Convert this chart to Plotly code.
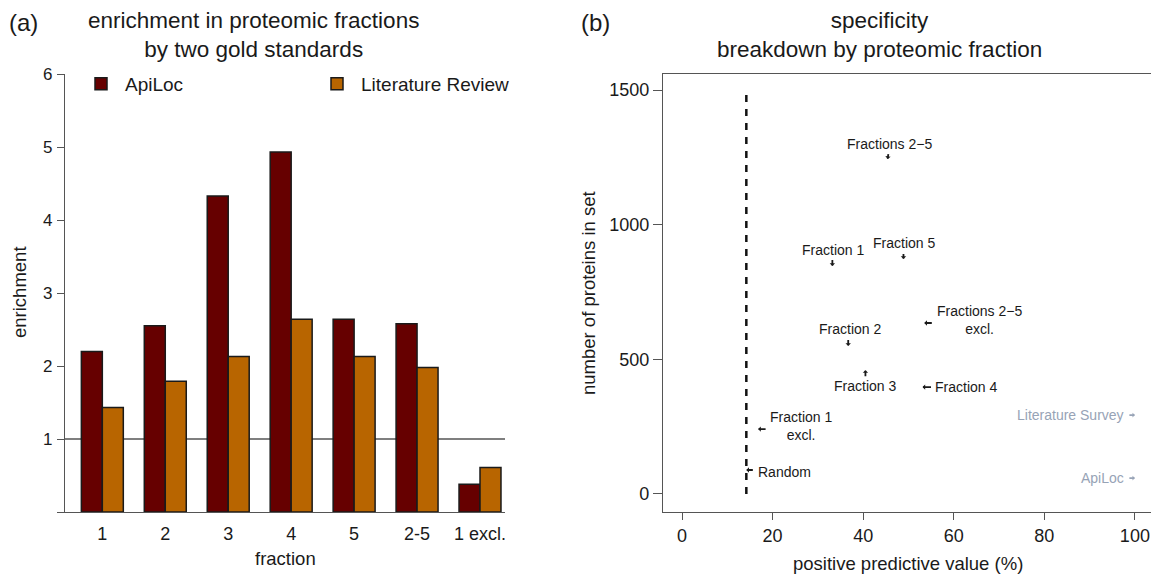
import plotly.graph_objects as go

# ---------------- data ----------------
fractions = ["1", "2", "3", "4", "5", "2-5", "1 excl."]
apiloc_enrichment = [2.20, 2.55, 4.33, 4.93, 2.64, 2.58, 0.38]
literature_enrichment = [1.43, 1.79, 2.13, 2.64, 2.13, 1.98, 0.61]
enrichment_ticks = [1, 2, 3, 4, 5, 6]
baseline_enrichment = 1

set_labels = ["Fractions 2\u22125", "Fraction 1", "Fraction 5", "Fraction 2",
              "Fractions 2\u22125<br>excl.", "Fraction 3", "Fraction 4",
              "Fraction 1<br>excl.", "Random"]
set_ppv = [45.4, 33.2, 48.9, 36.7, 53.5, 40.5, 53.1, 16.8, 14.2]
set_size = [1244, 847, 873, 550, 635, 460, 397, 241, 89]

gold_labels = ["Literature Survey", "ApiLoc"]
gold_ppv = [100, 100]
gold_size = [293, 59]

random_ppv = 14.2
random_line_size = [0, 1485]

ppv_ticks = [0, 20, 40, 60, 80, 100]
size_ticks = [0, 500, 1000, 1500]

# ---------------- styles ----------------
# the page body has an 8px margin, so the figure is sized to fit the window
OFF = 8
W, H = 1159 - OFF, 578 - OFF
FONT = "Liberation Sans, Arial, sans-serif"
TXT = "#1a1a1a"
AX = "#555555"
DARK = "#660000"
ORANGE = "#B86500"
GOLD_COL = "#97A3B6"

def px(xp):
    return (xp - OFF) / W

def py(yp):
    return 1 - (yp - OFF) / H

# arrow (tail offset) and label offsets for each set, in pixels
arrow_off = [(1, -7), (0, -8), (0, -7), (0, -8), (9, 0), (0, 8), (10, 0), (9, 0), (8, 0)]
label_off = [(2, 15, "center"), (1, 16, "center"), (1, 16, "center"), (2, 17, "center"),
             (55, 3, "center"), (0, -16, "center"), (11, 0, "left"), (43, 3, "center"),
             (10, -2, "left")]

fig = go.Figure()

# ---- panel (a) ----
fig.add_trace(go.Bar(x=fractions, y=apiloc_enrichment, name="ApiLoc",
                     marker=dict(color=DARK, line=dict(color="#1a1a1a", width=1.5)),
                     xaxis="x", yaxis="y"))
fig.add_trace(go.Bar(x=fractions, y=literature_enrichment, name="Literature Review",
                     marker=dict(color=ORANGE, line=dict(color="#1a1a1a", width=1.5)),
                     xaxis="x", yaxis="y"))

# ---- panel (b) ----
fig.add_trace(go.Scatter(x=[random_ppv, random_ppv], y=random_line_size, mode="lines",
                         line=dict(color="#111111", width=2.5, dash="7px,7px"),
                         showlegend=False, xaxis="x2", yaxis="y2", hoverinfo="skip"))
fig.add_trace(go.Scatter(x=set_ppv, y=set_size, mode="markers",
                         marker=dict(size=1, color="rgba(0,0,0,0)"),
                         showlegend=False, xaxis="x2", yaxis="y2", text=set_labels))

annotations = []
for i, (lab, xv, yv) in enumerate(zip(set_labels, set_ppv, set_size)):
    ax_, ay_ = arrow_off[i]
    annotations.append(dict(x=xv, y=yv, xref="x2", yref="y2", text=" ", showarrow=True,
                            ax=ax_, ay=ay_, arrowhead=1, arrowsize=0.5, arrowwidth=1.8,
                            arrowcolor="#1a1a1a", font=dict(size=1)))
    dx, dy, anc = label_off[i]
    annotations.append(dict(x=xv, y=yv, xref="x2", yref="y2", text=lab, showarrow=False,
                            xshift=dx, yshift=dy, xanchor=anc, yanchor="middle",
                            font=dict(size=14, color=TXT, family=FONT)))

for lab, xv, yv in zip(gold_labels, gold_ppv, gold_size):
    annotations.append(dict(x=xv, y=yv, xref="x2", yref="y2", text=" ", showarrow=True,
                            ax=-7, ay=0, arrowhead=1, arrowsize=0.5, arrowwidth=1.6,
                            arrowcolor=GOLD_COL, font=dict(size=1)))
    annotations.append(dict(x=xv, y=yv, xref="x2", yref="y2", text=lab, showarrow=False,
                            xshift=-9, yshift=0, xanchor="right", yanchor="middle",
                            font=dict(size=14, color=GOLD_COL, family=FONT)))

# titles and panel letters
annotations += [
    dict(x=px(24), y=py(23), xref="paper", yref="paper", text="(a)", showarrow=False,
         font=dict(size=24, color=TXT, family=FONT), xanchor="center", yanchor="middle"),
    dict(x=px(595), y=py(23), xref="paper", yref="paper", text="(b)", showarrow=False,
         font=dict(size=24, color=TXT, family=FONT), xanchor="center", yanchor="middle"),
    dict(x=px(253), y=py(35), xref="paper", yref="paper",
         text="enrichment in proteomic fractions<br>by two gold standards", showarrow=False,
         font=dict(size=22.5, color=TXT, family=FONT), xanchor="center", yanchor="middle"),
    dict(x=px(879), y=py(35), xref="paper", yref="paper",
         text="specificity<br>breakdown by proteomic fraction", showarrow=False,
         font=dict(size=22.5, color=TXT, family=FONT), xanchor="center", yanchor="middle"),
    dict(x=px(285), y=py(558), xref="paper", yref="paper", text="fraction", showarrow=False,
         font=dict(size=18.5, color=TXT, family=FONT), xanchor="center", yanchor="middle"),
    dict(x=px(19), y=py(292), xref="paper", yref="paper", text="enrichment", showarrow=False,
         textangle=-90, font=dict(size=18.5, color=TXT, family=FONT),
         xanchor="center", yanchor="middle"),
    dict(x=px(908), y=py(563), xref="paper", yref="paper", text="positive predictive value (%)",
         showarrow=False, font=dict(size=18.5, color=TXT, family=FONT),
         xanchor="center", yanchor="middle"),
    dict(x=px(588), y=py(293), xref="paper", yref="paper", text="number of proteins in set",
         showarrow=False, textangle=-90, font=dict(size=18.5, color=TXT, family=FONT),
         xanchor="center", yanchor="middle"),
]

ydom = [py(512), py(74)]

fig.update_layout(
    width=W, height=H,
    margin=dict(l=0, r=0, t=0, b=0, autoexpand=False),
    paper_bgcolor="white", plot_bgcolor="white",
    font=dict(family=FONT, color=TXT, size=18),
    barmode="group", bargap=1/3, bargroupgap=0,
    showlegend=True,
    legend=dict(orientation="h", x=px(77), y=py(65), xanchor="left", yanchor="top",
                font=dict(size=19, color=TXT, family=FONT), entrywidth=183,
                entrywidthmode="pixels", itemwidth=38,
                bgcolor="rgba(0,0,0,0)", traceorder="normal"),
    xaxis=dict(domain=[px(65), px(505)], range=[-0.593, 6.397], type="category",
               showline=True, linecolor=AX, linewidth=1.3, ticks="", showgrid=False,
               zeroline=False, tickfont=dict(size=18, color=TXT), ticklabelstandoff=5,
               anchor="y", automargin=False),
    yaxis=dict(domain=ydom, range=[0, 6], tickvals=enrichment_ticks + [0],
               ticktext=[str(v) for v in enrichment_ticks] + [""],
               showline=True, linecolor=AX, linewidth=1.3, ticks="outside", ticklen=7,
               tickcolor=AX, tickwidth=1.3, showgrid=False, zeroline=False,
               tickfont=dict(size=17, color=TXT), ticklabelstandoff=1, anchor="x",
               automargin=False),
    xaxis2=dict(domain=[px(663), px(1153)], range=[-4.2, 104.0], tickvals=ppv_ticks,
                showline=True, mirror=True, linecolor=AX, linewidth=1.3, ticks="outside",
                ticklen=7, tickcolor=AX, tickwidth=1.3, showgrid=False, zeroline=False,
                tickfont=dict(size=18, color=TXT), anchor="y2", automargin=False),
    yaxis2=dict(domain=ydom, range=[-67, 1560], tickvals=size_ticks,
                showline=True, mirror=True, linecolor=AX, linewidth=1.3, ticks="outside",
                ticklen=9, tickcolor=AX, tickwidth=1.3, showgrid=False, zeroline=False,
                tickfont=dict(size=18, color=TXT), anchor="x2", automargin=False),
    annotations=annotations,
    shapes=[dict(type="line", xref="x domain", yref="y", x0=0, x1=1,
                 y0=baseline_enrichment, y1=baseline_enrichment,
                 line=dict(color=AX, width=1.3), layer="below")],
)

fig.write_html("out.html")
